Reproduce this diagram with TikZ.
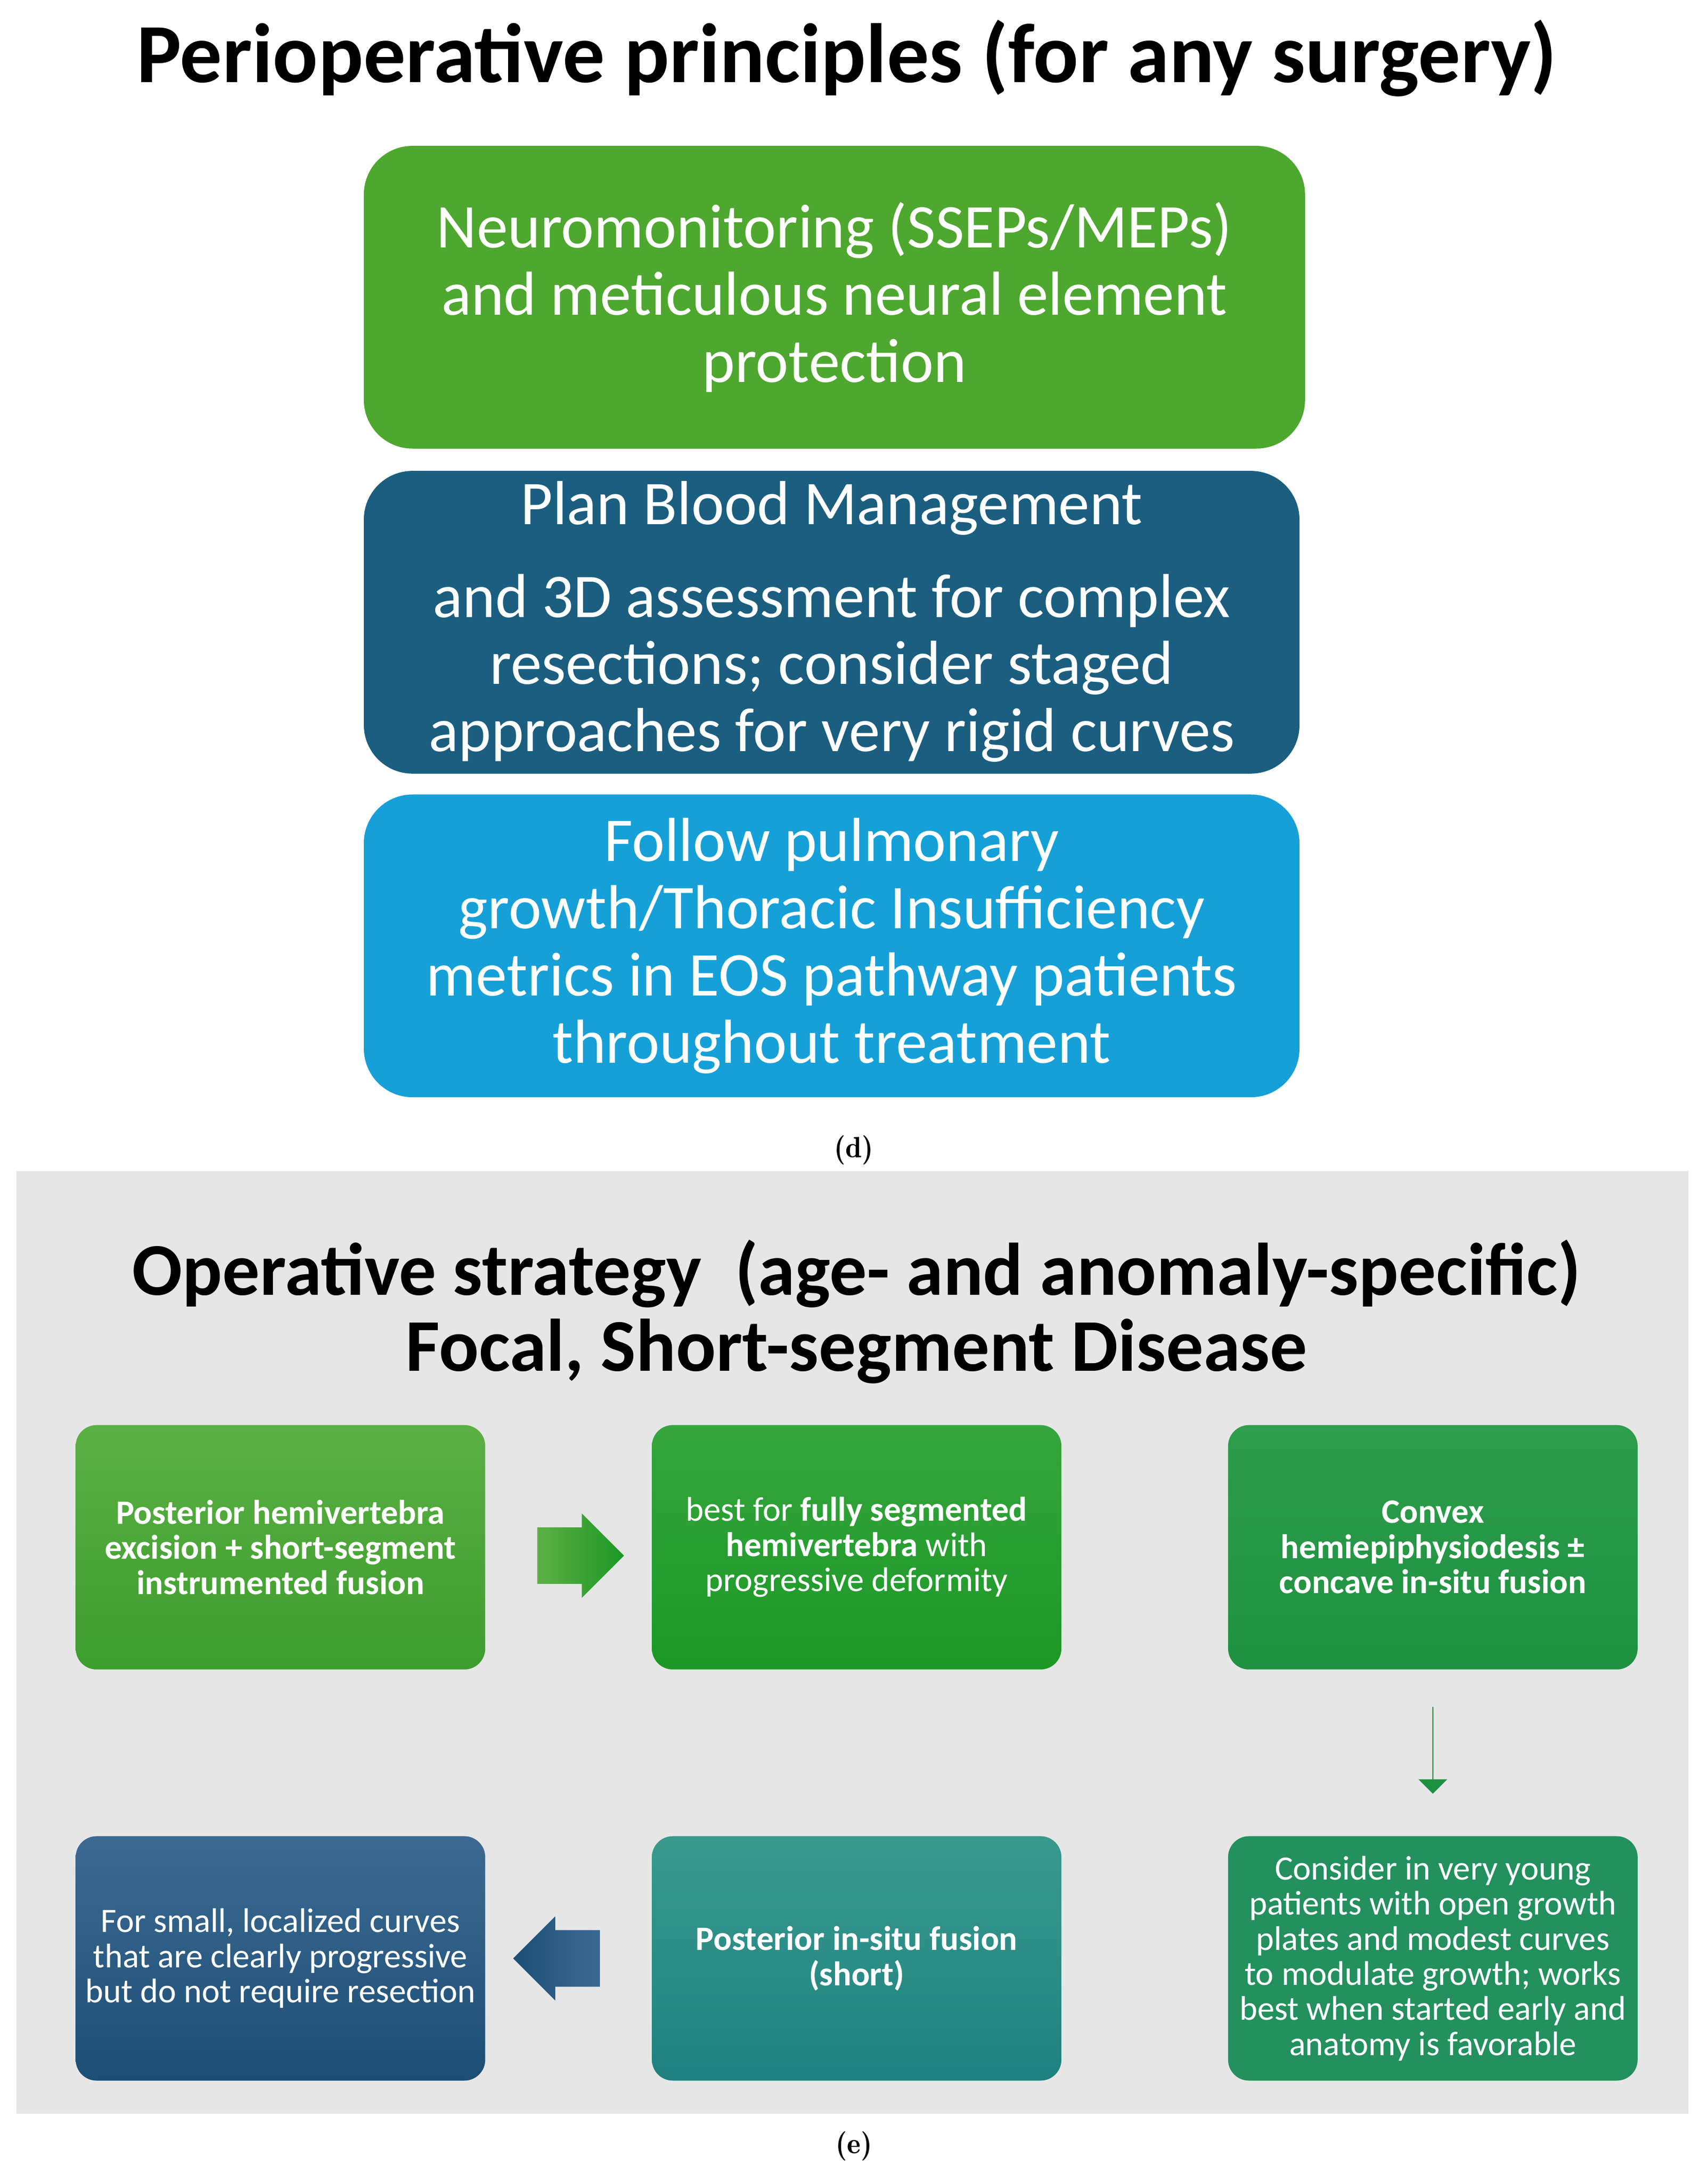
\documentclass[tikz,border=0pt]{standalone}
\usepackage{fontspec}
\setmainfont{Carlito}
\usetikzlibrary{positioning,shapes.arrows}
\definecolor{boxgreen}{HTML}{4EA72E}
\definecolor{boxnavy}{HTML}{1B5E80}
\definecolor{boxsky}{HTML}{16A0D8}
\definecolor{panelgray}{HTML}{E6E6E6}
\definecolor{gOneTop}{HTML}{5CB043}
\definecolor{gOneBot}{HTML}{3C9D2E}
\definecolor{gTwoTop}{HTML}{36A53E}
\definecolor{gTwoBot}{HTML}{1C9826}
\definecolor{gThrTop}{HTML}{2E9D4C}
\definecolor{gThrBot}{HTML}{1E9140}
\definecolor{gFour}{HTML}{23905E}
\definecolor{tealTop}{HTML}{3A9A8E}
\definecolor{tealBot}{HTML}{1E8180}
\definecolor{navyTop}{HTML}{3D6A92}
\definecolor{navyBot}{HTML}{1C4E75}
\begin{document}
\begin{tikzpicture}
		[x=0.02cm,y=-0.02cm,
		big box/.style={draw=none,rounded corners=0.7cm,minimum width=13.56cm,minimum height=4.36cm,text=white,font=\fontsize{25.5}{27.5}\selectfont,align=center},
		small box/.style={draw=none,rounded corners=0.3cm,minimum width=5.9cm,minimum height=3.52cm,text=white,font=\fontsize{14}{14.4}\selectfont,align=center},
		fat arrow/.style={single arrow,draw=none,minimum height=1.25cm,single arrow head extend=0.2cm,inner xsep=0pt,inner ysep=0.4cm}]
		\useasboundingbox (0,0) rectangle (1230,1571);
		\fill[white] (0,0) rectangle (1230,1571);
		
		\node (t1) at (610,42) {\fontsize{34.5}{36}\selectfont\bfseries Perioperative principles (for any surgery)};
		
		\node [big box,fill=boxgreen] (b1) at (601,214) {Neuromonitoring (SSEPs/MEPs)\\and meticulous neural element\\protection};
		\node [big box,fill=boxnavy,minimum width=13.48cm] (b2) at (599,448) {};
		\node (b2a) at (599,366) [text=white,font=\fontsize{25.5}{27.5}\selectfont] {Plan Blood Management};
		\node (b2b) at (599,481) [text=white,font=\fontsize{25.5}{27.5}\selectfont,align=center] {and 3D assessment for complex\\resections; consider staged\\approaches for very rigid curves};
		\node [big box,fill=boxsky,minimum width=13.48cm] (b3) at (599,681) {Follow pulmonary\\growth/Thoracic Insufficiency\\metrics in EOS pathway patients\\throughout treatment};
		\node (d) at (615,828) {\fontfamily{lmr}\selectfont\large\textbf{(d)}};
		
		% lower panel
		\fill[panelgray] (12,843) rectangle (1216,1522);
		\node (t2) at (617,917) {\fontsize{30.5}{32}\selectfont\bfseries Operative strategy \ (age- and anomaly-specific)};
		\node (t3) at (617,973) {\fontsize{30.5}{32}\selectfont\bfseries Focal, Short-segment Disease};
		
		\node [small box,top color=gOneTop,bottom color=gOneBot] (s1) at (202,1114) {\bfseries Posterior hemivertebra\\\bfseries excision + short-segment\\\bfseries instrumented fusion};
		\node [small box,top color=gTwoTop,bottom color=gTwoBot] (s2) at (617,1114) {best for \textbf{fully segmented}\\\textbf{hemivertebra} with\\progressive deformity};
		\node [small box,top color=gThrTop,bottom color=gThrBot] (s3) at (1032,1114) {\bfseries Convex\\\bfseries hemiepiphysiodesis ±\\\bfseries concave in-situ fusion};
		\node [small box,fill=gFour] (s4) at (1032,1410) {Consider in very young\\patients with open growth\\plates and modest curves\\to modulate growth; works\\best when started early and\\anatomy is favorable};
		\node [small box,top color=tealTop,bottom color=tealBot] (s5) at (617,1410) {\bfseries Posterior in-situ fusion\\\bfseries (short)};
		\node [small box,top color=navyTop,bottom color=navyBot] (s6) at (202,1410) {For small, localized curves\\that are clearly progressive\\but do not require resection};
		
		\node [fat arrow,left color=gOneTop,right color=gTwoBot] (a1) at (408,1120) {};
		\node [fat arrow,shape border rotate=270,fill=gThrBot] (a2) at (1032,1260) {};
		\node [fat arrow,shape border rotate=180,left color=navyBot,right color=navyTop] (a3) at (411,1410) {};
		\node (e) at (615,1545) {\fontfamily{lmr}\selectfont\large\textbf{(e)}};
		
\end{tikzpicture}
\end{document}
